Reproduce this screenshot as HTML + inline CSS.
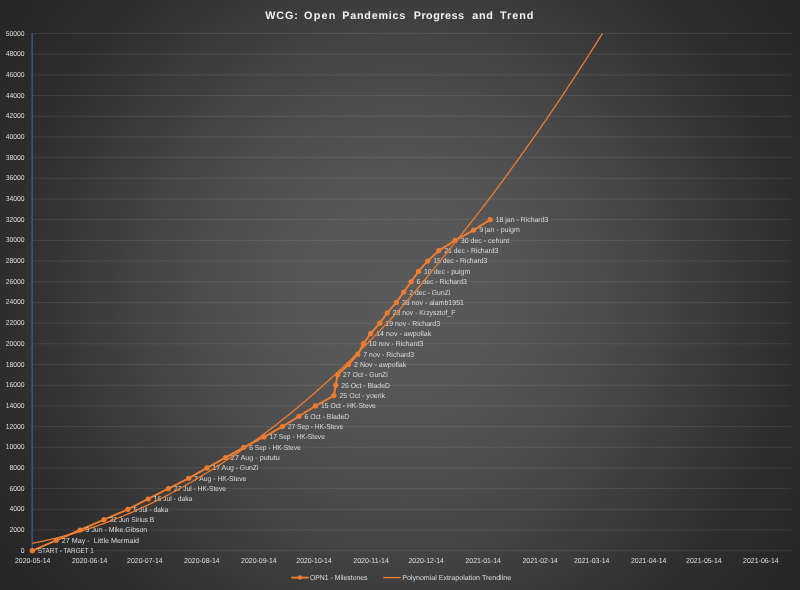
<!DOCTYPE html>
<html lang="en"><head><meta charset="utf-8"><title>WCG: Open Pandemics Progress and Trend</title>
<style>
html,body{margin:0;padding:0;background:#262626;}
body{width:800px;height:590px;overflow:hidden;font-family:"Liberation Sans",sans-serif;}
svg{display:block;}
text{font-family:"Liberation Sans",sans-serif;}
svg{will-change:transform;}
text{text-rendering:geometricPrecision;}
.ax{font-size:7.2px;fill:#dedede;}
.dl{font-size:7.2px;fill:#dcdcdc;}
.lg{font-size:7.2px;fill:#dedede;}
.tt{font-size:10.8px;font-weight:bold;fill:#f2f2f2;}
</style></head><body>
<svg width="800" height="590" viewBox="0 0 800 590">
<defs>
<radialGradient id="bg" gradientUnits="userSpaceOnUse" cx="400" cy="295" r="1" gradientTransform="translate(400 295) scale(497 497) translate(-400 -295)">
<stop offset="0" stop-color="#595959"/><stop offset="0.04167" stop-color="#595959"/><stop offset="0.08333" stop-color="#585858"/><stop offset="0.125" stop-color="#585858"/><stop offset="0.1667" stop-color="#575757"/><stop offset="0.2083" stop-color="#555555"/><stop offset="0.25" stop-color="#545454"/><stop offset="0.2917" stop-color="#525252"/><stop offset="0.3333" stop-color="#505050"/><stop offset="0.375" stop-color="#4d4d4d"/><stop offset="0.4167" stop-color="#4b4b4b"/><stop offset="0.4583" stop-color="#484848"/><stop offset="0.5" stop-color="#454545"/><stop offset="0.5417" stop-color="#424242"/><stop offset="0.5833" stop-color="#3e3e3e"/><stop offset="0.625" stop-color="#3b3b3b"/><stop offset="0.6667" stop-color="#383838"/><stop offset="0.7083" stop-color="#343434"/><stop offset="0.75" stop-color="#313131"/><stop offset="0.7917" stop-color="#2e2e2e"/><stop offset="0.8333" stop-color="#2c2c2c"/><stop offset="0.875" stop-color="#2a2a2a"/><stop offset="0.9167" stop-color="#282828"/><stop offset="0.9583" stop-color="#272727"/><stop offset="1" stop-color="#262626"/>
</radialGradient>
</defs>
<rect x="0" y="0" width="800" height="590" fill="url(#bg)"/>

<g class="tt t">
<text x="265.3" y="18.8" textLength="32.5" lengthAdjust="spacing">WCG:</text>
<text x="304.1" y="18.8" textLength="31.2" lengthAdjust="spacing">Open</text>
<text x="342.2" y="18.8" textLength="63.1" lengthAdjust="spacing">Pandemics</text>
<text x="413.75" y="18.8" textLength="50.25" lengthAdjust="spacing">Progress</text>
<text x="472.3" y="18.8" textLength="20.6" lengthAdjust="spacing">and</text>
<text x="500" y="18.8" textLength="33.4" lengthAdjust="spacing">Trend</text>
</g>
<g stroke="#f2f2f2" stroke-opacity="0.09" stroke-width="1" shape-rendering="auto">
<line x1="32.3" y1="550.7" x2="791" y2="550.7"/>
<line x1="32.3" y1="530.01" x2="791" y2="530.01"/>
<line x1="32.3" y1="509.32" x2="791" y2="509.32"/>
<line x1="32.3" y1="488.64" x2="791" y2="488.64"/>
<line x1="32.3" y1="467.95" x2="791" y2="467.95"/>
<line x1="32.3" y1="447.26" x2="791" y2="447.26"/>
<line x1="32.3" y1="426.57" x2="791" y2="426.57"/>
<line x1="32.3" y1="405.88" x2="791" y2="405.88"/>
<line x1="32.3" y1="385.2" x2="791" y2="385.2"/>
<line x1="32.3" y1="364.51" x2="791" y2="364.51"/>
<line x1="32.3" y1="343.82" x2="791" y2="343.82"/>
<line x1="32.3" y1="323.13" x2="791" y2="323.13"/>
<line x1="32.3" y1="302.44" x2="791" y2="302.44"/>
<line x1="32.3" y1="281.76" x2="791" y2="281.76"/>
<line x1="32.3" y1="261.07" x2="791" y2="261.07"/>
<line x1="32.3" y1="240.38" x2="791" y2="240.38"/>
<line x1="32.3" y1="219.69" x2="791" y2="219.69"/>
<line x1="32.3" y1="199" x2="791" y2="199"/>
<line x1="32.3" y1="178.32" x2="791" y2="178.32"/>
<line x1="32.3" y1="157.63" x2="791" y2="157.63"/>
<line x1="32.3" y1="136.94" x2="791" y2="136.94"/>
<line x1="32.3" y1="116.25" x2="791" y2="116.25"/>
<line x1="32.3" y1="95.56" x2="791" y2="95.56"/>
<line x1="32.3" y1="74.88" x2="791" y2="74.88"/>
<line x1="32.3" y1="54.19" x2="791" y2="54.19"/>
<line x1="32.3" y1="33.5" x2="791" y2="33.5"/>
</g>
<line x1="32.15" y1="33" x2="32.15" y2="550.7" stroke="#3f62a6" stroke-width="1.15"/>
<g class="ax t" text-anchor="end">
<text x="24.6" y="552.75" textLength="3.78" lengthAdjust="spacingAndGlyphs">0</text>
<text x="24.6" y="532.06" textLength="15.1" lengthAdjust="spacingAndGlyphs">2000</text>
<text x="24.6" y="511.37" textLength="15.1" lengthAdjust="spacingAndGlyphs">4000</text>
<text x="24.6" y="490.69" textLength="15.1" lengthAdjust="spacingAndGlyphs">6000</text>
<text x="24.6" y="470" textLength="15.1" lengthAdjust="spacingAndGlyphs">8000</text>
<text x="24.6" y="449.31" textLength="18.88" lengthAdjust="spacingAndGlyphs">10000</text>
<text x="24.6" y="428.62" textLength="18.88" lengthAdjust="spacingAndGlyphs">12000</text>
<text x="24.6" y="407.93" textLength="18.88" lengthAdjust="spacingAndGlyphs">14000</text>
<text x="24.6" y="387.25" textLength="18.88" lengthAdjust="spacingAndGlyphs">16000</text>
<text x="24.6" y="366.56" textLength="18.88" lengthAdjust="spacingAndGlyphs">18000</text>
<text x="24.6" y="345.87" textLength="18.88" lengthAdjust="spacingAndGlyphs">20000</text>
<text x="24.6" y="325.18" textLength="18.88" lengthAdjust="spacingAndGlyphs">22000</text>
<text x="24.6" y="304.49" textLength="18.88" lengthAdjust="spacingAndGlyphs">24000</text>
<text x="24.6" y="283.81" textLength="18.88" lengthAdjust="spacingAndGlyphs">26000</text>
<text x="24.6" y="263.12" textLength="18.88" lengthAdjust="spacingAndGlyphs">28000</text>
<text x="24.6" y="242.43" textLength="18.88" lengthAdjust="spacingAndGlyphs">30000</text>
<text x="24.6" y="221.74" textLength="18.88" lengthAdjust="spacingAndGlyphs">32000</text>
<text x="24.6" y="201.05" textLength="18.88" lengthAdjust="spacingAndGlyphs">34000</text>
<text x="24.6" y="180.37" textLength="18.88" lengthAdjust="spacingAndGlyphs">36000</text>
<text x="24.6" y="159.68" textLength="18.88" lengthAdjust="spacingAndGlyphs">38000</text>
<text x="24.6" y="138.99" textLength="18.88" lengthAdjust="spacingAndGlyphs">40000</text>
<text x="24.6" y="118.3" textLength="18.88" lengthAdjust="spacingAndGlyphs">42000</text>
<text x="24.6" y="97.61" textLength="18.88" lengthAdjust="spacingAndGlyphs">44000</text>
<text x="24.6" y="76.93" textLength="18.88" lengthAdjust="spacingAndGlyphs">46000</text>
<text x="24.6" y="56.24" textLength="18.88" lengthAdjust="spacingAndGlyphs">48000</text>
<text x="24.6" y="35.55" textLength="18.88" lengthAdjust="spacingAndGlyphs">50000</text>
</g>
<g class="ax t" text-anchor="middle">
<text x="32.7" y="562.9" textLength="35.56" lengthAdjust="spacingAndGlyphs">2020-05-14</text>
<text x="89.71" y="562.9" textLength="35.56" lengthAdjust="spacingAndGlyphs">2020-06-14</text>
<text x="144.87" y="562.9" textLength="35.56" lengthAdjust="spacingAndGlyphs">2020-07-14</text>
<text x="201.88" y="562.9" textLength="35.56" lengthAdjust="spacingAndGlyphs">2020-08-14</text>
<text x="258.88" y="562.9" textLength="35.56" lengthAdjust="spacingAndGlyphs">2020-09-14</text>
<text x="314.05" y="562.9" textLength="35.56" lengthAdjust="spacingAndGlyphs">2020-10-14</text>
<text x="371.06" y="562.9" textLength="35.56" lengthAdjust="spacingAndGlyphs">2020-11-14</text>
<text x="426.22" y="562.9" textLength="35.56" lengthAdjust="spacingAndGlyphs">2020-12-14</text>
<text x="483.23" y="562.9" textLength="35.56" lengthAdjust="spacingAndGlyphs">2021-01-14</text>
<text x="540.23" y="562.9" textLength="35.56" lengthAdjust="spacingAndGlyphs">2021-02-14</text>
<text x="591.72" y="562.9" textLength="35.56" lengthAdjust="spacingAndGlyphs">2021-03-14</text>
<text x="648.73" y="562.9" textLength="35.56" lengthAdjust="spacingAndGlyphs">2021-04-14</text>
<text x="703.89" y="562.9" textLength="35.56" lengthAdjust="spacingAndGlyphs">2021-05-14</text>
<text x="760.9" y="562.9" textLength="35.56" lengthAdjust="spacingAndGlyphs">2021-06-14</text>
</g>
<polyline fill="none" stroke="#ED7D31" stroke-width="2" stroke-linejoin="round" stroke-linecap="round" points="32.3,550.7 56.21,540.36 80.11,530.01 104.02,519.67 127.92,509.32 148.15,498.98 168.38,488.64 188.61,478.29 206.99,467.95 225.38,457.6 243.77,447.26 264,436.92 282.39,426.57 298.94,416.23 315.49,405.88 333.88,395.54 335.72,385.2 337.56,374.85 348.59,364.51 357.78,354.16 363.3,343.82 370.66,333.48 379.85,323.13 387.21,312.79 396.4,302.44 403.76,292.1 411.11,281.76 418.47,271.41 427.66,261.07 438.69,250.72 455.24,240.38 473.63,230.04 490.18,219.69"/>
<g fill="#ED7D31">
<circle cx="32.3" cy="550.7" r="2.6"/>
<circle cx="56.21" cy="540.36" r="2.6"/>
<circle cx="80.11" cy="530.01" r="2.6"/>
<circle cx="104.02" cy="519.67" r="2.6"/>
<circle cx="127.92" cy="509.32" r="2.6"/>
<circle cx="148.15" cy="498.98" r="2.6"/>
<circle cx="168.38" cy="488.64" r="2.6"/>
<circle cx="188.61" cy="478.29" r="2.6"/>
<circle cx="206.99" cy="467.95" r="2.6"/>
<circle cx="225.38" cy="457.6" r="2.6"/>
<circle cx="243.77" cy="447.26" r="2.6"/>
<circle cx="264" cy="436.92" r="2.6"/>
<circle cx="282.39" cy="426.57" r="2.6"/>
<circle cx="298.94" cy="416.23" r="2.6"/>
<circle cx="315.49" cy="405.88" r="2.6"/>
<circle cx="333.88" cy="395.54" r="2.6"/>
<circle cx="335.72" cy="385.2" r="2.6"/>
<circle cx="337.56" cy="374.85" r="2.6"/>
<circle cx="348.59" cy="364.51" r="2.6"/>
<circle cx="357.78" cy="354.16" r="2.6"/>
<circle cx="363.3" cy="343.82" r="2.6"/>
<circle cx="370.66" cy="333.48" r="2.6"/>
<circle cx="379.85" cy="323.13" r="2.6"/>
<circle cx="387.21" cy="312.79" r="2.6"/>
<circle cx="396.4" cy="302.44" r="2.6"/>
<circle cx="403.76" cy="292.1" r="2.6"/>
<circle cx="411.11" cy="281.76" r="2.6"/>
<circle cx="418.47" cy="271.41" r="2.6"/>
<circle cx="427.66" cy="261.07" r="2.6"/>
<circle cx="438.69" cy="250.72" r="2.6"/>
<circle cx="455.24" cy="240.38" r="2.6"/>
<circle cx="473.63" cy="230.04" r="2.6"/>
<circle cx="490.18" cy="219.69" r="2.6"/>
</g>
<g class="dl t">
<text x="37.8" y="553.1" textLength="56.06" lengthAdjust="spacingAndGlyphs" xml:space="preserve">START - TARGET 1</text>
<text x="61.71" y="542.76" textLength="77.34" lengthAdjust="spacingAndGlyphs" xml:space="preserve">27 May -  Little Mermaid</text>
<text x="85.61" y="532.41" textLength="61.6" lengthAdjust="spacingAndGlyphs" xml:space="preserve">9 Jun - Mike.Gibson</text>
<text x="109.52" y="522.07" textLength="44.69" lengthAdjust="spacingAndGlyphs" xml:space="preserve">22 Jun Sirius B</text>
<text x="133.42" y="511.72" textLength="34.76" lengthAdjust="spacingAndGlyphs" xml:space="preserve">5 Jul - daka</text>
<text x="153.65" y="501.38" textLength="38.68" lengthAdjust="spacingAndGlyphs" xml:space="preserve">16 Jul - daka</text>
<text x="173.88" y="491.04" textLength="52.2" lengthAdjust="spacingAndGlyphs" xml:space="preserve">27 Jul - HK-Steve</text>
<text x="194.11" y="480.69" textLength="52.16" lengthAdjust="spacingAndGlyphs" xml:space="preserve">7 Aug - HK-Steve</text>
<text x="212.49" y="470.35" textLength="45.95" lengthAdjust="spacingAndGlyphs" xml:space="preserve">17 Aug - GunZi</text>
<text x="230.88" y="460" textLength="48.98" lengthAdjust="spacingAndGlyphs" xml:space="preserve">27 Aug - pututu</text>
<text x="249.27" y="449.66" textLength="51.44" lengthAdjust="spacingAndGlyphs" xml:space="preserve">6 Sep - HK-Steve</text>
<text x="269.5" y="439.32" textLength="55.36" lengthAdjust="spacingAndGlyphs" xml:space="preserve">17 Sep - HK-Steve</text>
<text x="287.89" y="428.97" textLength="55.36" lengthAdjust="spacingAndGlyphs" xml:space="preserve">27 Sep - HK-Steve</text>
<text x="304.44" y="418.63" textLength="44.79" lengthAdjust="spacingAndGlyphs" xml:space="preserve">6 Oct - BladeD</text>
<text x="320.99" y="408.28" textLength="54.87" lengthAdjust="spacingAndGlyphs" xml:space="preserve">15 Oct - HK-Steve</text>
<text x="339.38" y="397.94" textLength="45.77" lengthAdjust="spacingAndGlyphs" xml:space="preserve">25 Oct - yoerik</text>
<text x="341.22" y="387.6" textLength="48.7" lengthAdjust="spacingAndGlyphs" xml:space="preserve">26 Oct - BladeD</text>
<text x="343.06" y="377.25" textLength="44.76" lengthAdjust="spacingAndGlyphs" xml:space="preserve">27 Oct - GunZi</text>
<text x="354.09" y="366.91" textLength="52.15" lengthAdjust="spacingAndGlyphs" xml:space="preserve">2 Nov - awpollak</text>
<text x="363.28" y="356.56" textLength="50.77" lengthAdjust="spacingAndGlyphs" xml:space="preserve">7 nov - Richard3</text>
<text x="368.8" y="346.22" textLength="54.68" lengthAdjust="spacingAndGlyphs" xml:space="preserve">10 nov - Richard3</text>
<text x="376.16" y="335.88" textLength="55.13" lengthAdjust="spacingAndGlyphs" xml:space="preserve">14 nov - awpollak</text>
<text x="385.35" y="325.53" textLength="54.68" lengthAdjust="spacingAndGlyphs" xml:space="preserve">19 nov - Richard3</text>
<text x="392.71" y="315.19" textLength="62.76" lengthAdjust="spacingAndGlyphs" xml:space="preserve">23 nov - Krzysztof_F</text>
<text x="401.9" y="304.84" textLength="62.08" lengthAdjust="spacingAndGlyphs" xml:space="preserve">28 nov - alamb1951</text>
<text x="409.26" y="294.5" textLength="41.04" lengthAdjust="spacingAndGlyphs" xml:space="preserve">2 dec - GunZi</text>
<text x="416.61" y="284.16" textLength="50.32" lengthAdjust="spacingAndGlyphs" xml:space="preserve">6 dec - Richard3</text>
<text x="423.97" y="273.81" textLength="46.27" lengthAdjust="spacingAndGlyphs" xml:space="preserve">10 dec - puigm</text>
<text x="433.16" y="263.47" textLength="54.23" lengthAdjust="spacingAndGlyphs" xml:space="preserve">15 dec - Richard3</text>
<text x="444.19" y="253.12" textLength="54.23" lengthAdjust="spacingAndGlyphs" xml:space="preserve">21 dec - Richard3</text>
<text x="460.74" y="242.78" textLength="48.45" lengthAdjust="spacingAndGlyphs" xml:space="preserve">30 dec - cehunt</text>
<text x="479.13" y="232.44" textLength="40.8" lengthAdjust="spacingAndGlyphs" xml:space="preserve">9 jan - puigm</text>
<text x="495.68" y="222.09" textLength="52.67" lengthAdjust="spacingAndGlyphs" xml:space="preserve">18 jan - Richard3</text>
</g>
<polyline fill="none" stroke="#ED7D31" stroke-width="1.3" stroke-linejoin="round" points="32.3,543.28 34.14,542.93 35.98,542.57 37.82,542.2 39.66,541.83 41.49,541.44 43.33,541.05 45.17,540.65 47.01,540.24 48.85,539.82 50.69,539.4 52.53,538.96 54.37,538.52 56.21,538.07 58.04,537.61 59.88,537.14 61.72,536.67 63.56,536.18 65.4,535.69 67.24,535.19 69.08,534.68 70.92,534.16 72.76,533.64 74.59,533.1 76.43,532.56 78.27,532.01 80.11,531.45 81.95,530.88 83.79,530.31 85.63,529.72 87.47,529.13 89.31,528.53 91.14,527.92 92.98,527.3 94.82,526.67 96.66,526.04 98.5,525.39 100.34,524.74 102.18,524.08 104.02,523.41 105.86,522.74 107.69,522.05 109.53,521.36 111.37,520.65 113.21,519.94 115.05,519.23 116.89,518.5 118.73,517.76 120.57,517.02 122.41,516.27 124.24,515.51 126.08,514.74 127.92,513.96 129.76,513.17 131.6,512.38 133.44,511.58 135.28,510.77 137.12,509.95 138.96,509.12 140.79,508.28 142.63,507.44 144.47,506.59 146.31,505.73 148.15,504.86 149.99,503.98 151.83,503.09 153.67,502.2 155.51,501.29 157.34,500.38 159.18,499.46 161.02,498.54 162.86,497.6 164.7,496.65 166.54,495.7 168.38,494.74 170.22,493.77 172.06,492.79 173.89,491.8 175.73,490.81 177.57,489.81 179.41,488.79 181.25,487.77 183.09,486.75 184.93,485.71 186.77,484.66 188.61,483.61 190.44,482.55 192.28,481.48 194.12,480.41 195.96,479.33 197.8,478.24 199.64,477.14 201.48,476.04 203.32,474.93 205.16,473.81 206.99,472.69 208.83,471.56 210.67,470.42 212.51,469.27 214.35,468.12 216.19,466.96 218.03,465.79 219.87,464.61 221.71,463.43 223.54,462.23 225.38,461.03 227.22,459.82 229.06,458.6 230.9,457.37 232.74,456.14 234.58,454.89 236.42,453.64 238.26,452.38 240.09,451.11 241.93,449.83 243.77,448.55 245.61,447.26 247.45,445.96 249.29,444.65 251.13,443.34 252.97,442.02 254.81,440.69 256.64,439.35 258.48,438.01 260.32,436.66 262.16,435.3 264,433.94 265.84,432.56 267.68,431.18 269.52,429.79 271.36,428.39 273.19,426.98 275.03,425.56 276.87,424.14 278.71,422.71 280.55,421.27 282.39,419.82 284.23,418.36 286.07,416.89 287.91,415.42 289.74,413.93 291.58,412.44 293.42,410.93 295.26,409.42 297.1,407.9 298.94,406.37 300.78,404.83 302.62,403.28 304.46,401.72 306.29,400.15 308.13,398.58 309.97,396.99 311.81,395.39 313.65,393.79 315.49,392.18 317.33,390.56 319.17,388.93 321.01,387.29 322.84,385.65 324.68,384 326.52,382.33 328.36,380.66 330.2,378.99 332.04,377.3 333.88,375.61 335.72,373.9 337.56,372.19 339.39,370.48 341.23,368.75 343.07,367.02 344.91,365.28 346.75,363.53 348.59,361.78 350.43,360.01 352.27,358.24 354.11,356.46 355.94,354.68 357.78,352.88 359.62,351.08 361.46,349.27 363.3,347.45 365.14,345.62 366.98,343.78 368.82,341.94 370.66,340.08 372.49,338.22 374.33,336.34 376.17,334.46 378.01,332.56 379.85,330.66 381.69,328.75 383.53,326.82 385.37,324.89 387.21,322.94 389.04,320.98 390.88,319.01 392.72,317.01 394.56,315 396.4,312.98 398.24,310.94 400.08,308.88 401.92,306.81 403.76,304.72 405.59,302.62 407.43,300.5 409.27,298.36 411.11,296.21 412.95,294.05 414.79,291.87 416.63,289.68 418.47,287.49 420.31,285.29 422.14,283.08 423.98,280.86 425.82,278.64 427.66,276.41 429.5,274.17 431.34,271.92 433.18,269.67 435.02,267.42 436.86,265.16 438.69,262.89 440.53,260.61 442.37,258.33 444.21,256.05 446.05,253.76 447.89,251.47 449.73,249.18 451.57,246.88 453.41,244.59 455.24,242.28 457.08,239.98 458.92,237.67 460.76,235.36 462.6,233.04 464.44,230.72 466.28,228.4 468.12,226.07 469.96,223.73 471.79,221.39 473.63,219.04 475.47,216.68 477.31,214.31 479.15,211.93 480.99,209.55 482.83,207.15 484.67,204.75 486.51,202.34 488.34,199.92 490.18,197.49 492.02,195.06 493.86,192.61 495.7,190.16 497.54,187.7 499.38,185.23 501.22,182.76 503.06,180.27 504.89,177.78 506.73,175.27 508.57,172.76 510.41,170.24 512.25,167.72 514.09,165.18 515.93,162.63 517.77,160.08 519.61,157.52 521.44,154.95 523.28,152.37 525.12,149.79 526.96,147.19 528.8,144.59 530.64,141.98 532.48,139.36 534.32,136.73 536.16,134.09 537.99,131.45 539.83,128.8 541.67,126.13 543.51,123.46 545.35,120.79 547.19,118.1 549.03,115.4 550.87,112.7 552.71,109.99 554.54,107.27 556.38,104.54 558.22,101.8 560.06,99.06 561.9,96.3 563.74,93.54 565.58,90.77 567.42,87.99 569.26,85.21 571.09,82.41 572.93,79.61 574.77,76.79 576.61,73.97 578.45,71.14 580.29,68.31 582.13,65.46 583.97,62.61 585.81,59.74 587.64,56.87 589.48,53.99 591.32,51.11 593.16,48.21 595,45.3 596.84,42.39 598.68,39.47 600.52,36.54 602.36,33.6 602.42,33.5"/>
<line x1="291.3" y1="577.6" x2="308.7" y2="577.6" stroke="#ED7D31" stroke-width="1.9"/>
<circle cx="300.1" cy="577.6" r="2.25" fill="#ED7D31"/>
<line x1="383.3" y1="577.6" x2="400.8" y2="577.6" stroke="#ED7D31" stroke-width="1.3"/>
<g class="lg t">
<text x="309.9" y="580" textLength="57.67" lengthAdjust="spacingAndGlyphs">OPN1 - Milestones</text>
<text x="402.2" y="580" textLength="108.94" lengthAdjust="spacingAndGlyphs">Polynomial Extrapolation Trendline</text>
</g>
</svg>
</body></html>
